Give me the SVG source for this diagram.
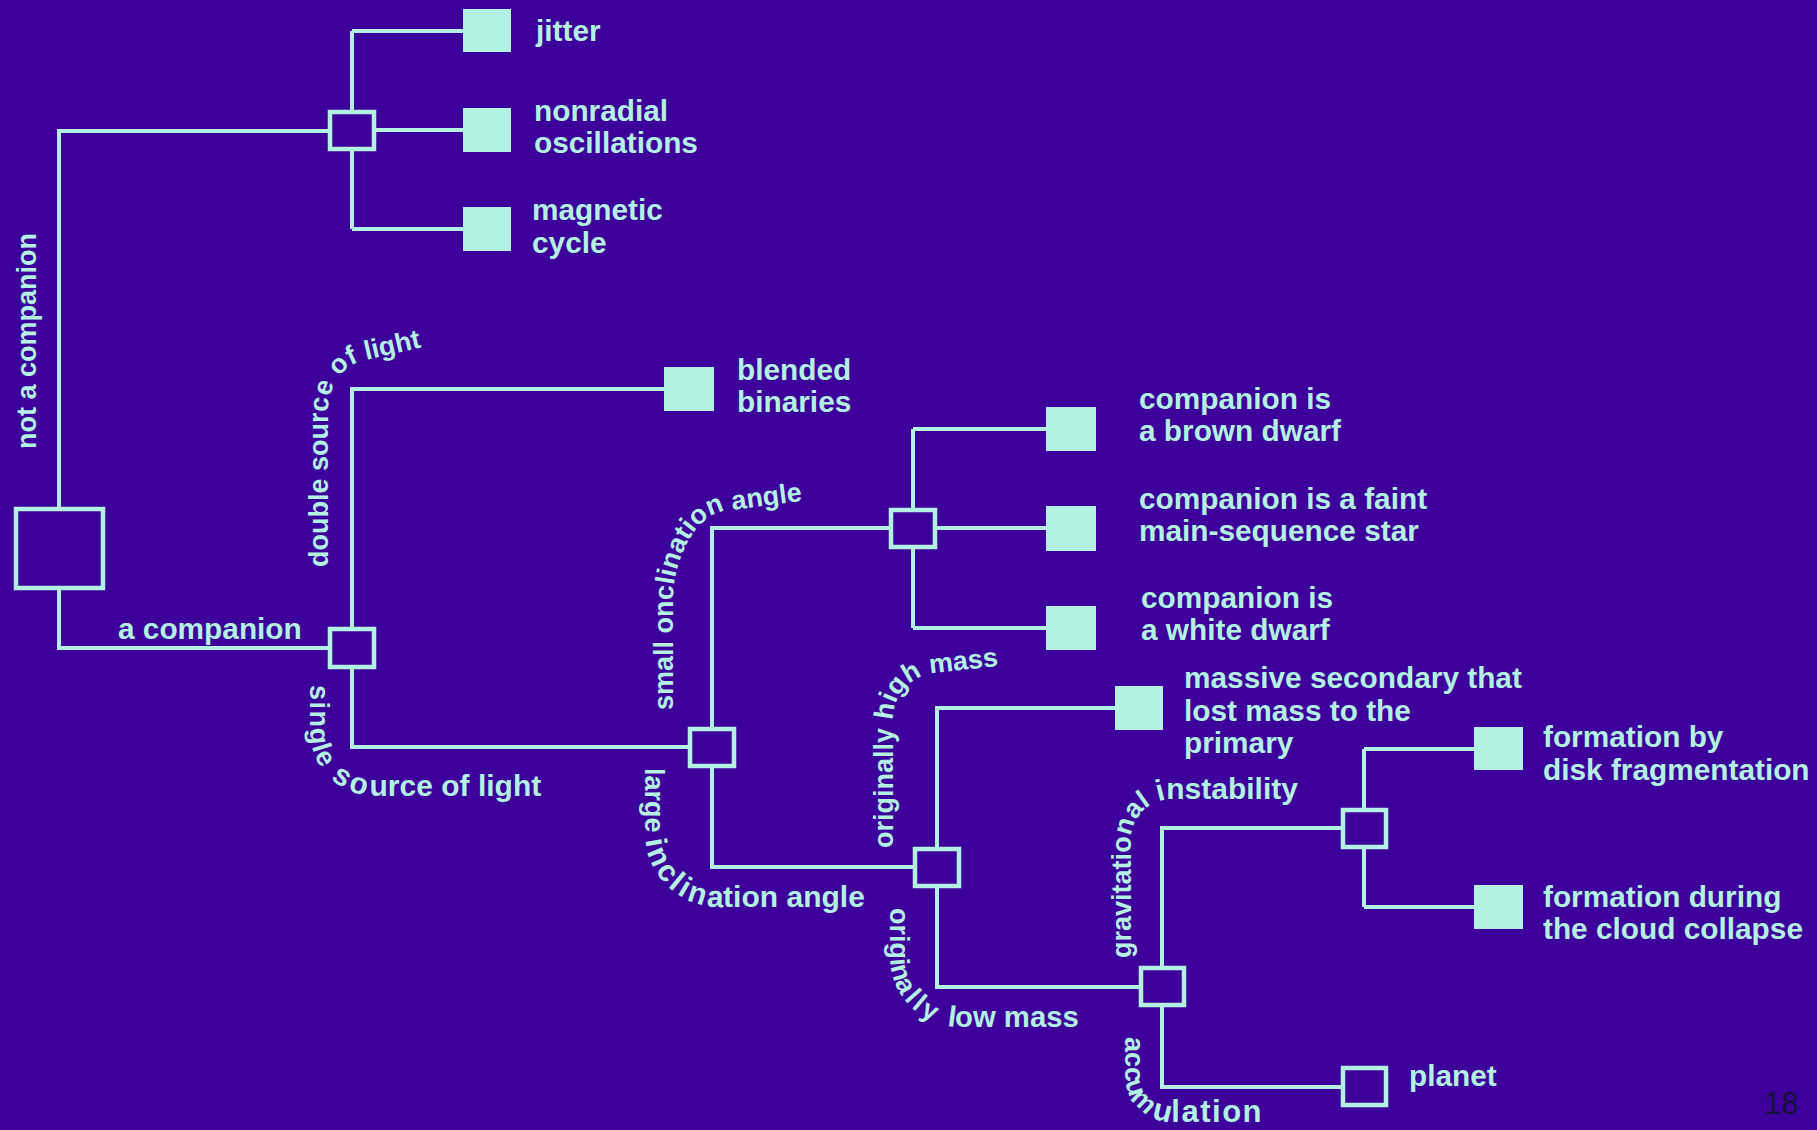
<svg xmlns="http://www.w3.org/2000/svg" width="1817" height="1130" viewBox="0 0 1817 1130">
<style>
.bg{fill:#3E009A}
.ln{fill:none;stroke:#B3F1E2;stroke-width:4}
.hb{fill:#3E009A;stroke:#B3F1E2;stroke-width:4.5}
.leaf{fill:#B3F1E2}
.t{font-family:"Liberation Sans",Arial,sans-serif;font-weight:bold;font-size:29.8px;fill:#B3F1E2}
.lb{font-family:"Liberation Sans",Arial,sans-serif;font-weight:bold;font-size:27px;fill:#B3F1E2}
.pg{font-family:"Liberation Sans",Arial,sans-serif;font-size:31px;fill:#15123a}
</style>
<defs>
<path id="pDS" d="M328,567 L328,410 C328,390 340.6,366 362,361 L460,338.5"/>
<path id="pSS" d="M310,685 L310,731 A65,65 0 0 0 375,796 L620,796"/>
<path id="pSO" d="M673,710 L673,600 C673,560 695,515 725,511 L840,496"/>
<path id="pLI" d="M645,768 L645,833 A74,74 0 0 0 719,907 L920,907"/>
<path id="pOH" d="M893,848 L893,720 C893,695 910,676 935,673 L1040,661"/>
<path id="pOL" d="M890,908 L890,957 A70,70 0 0 0 960,1027 L1140,1027"/>
<path id="pGI" d="M1131,958 L1131,840 A41,41 0 0 1 1172,799 L1340,799"/>
<path id="pAC" d="M1125,1037 L1125,1075 A47,47 0 0 0 1172,1122 L1320,1122"/>
</defs>
<rect class="bg" x="0" y="0" width="1817" height="1130"/>

<g id="connectors">
<path class="ln" d="M59,509 V131 H330"/>
<path class="ln" d="M352,31 V229 M352,31 H463 M374,130 H463 M352,229 H463"/>
<path class="ln" d="M59,588 V648 H330"/>
<path class="ln" d="M352,629 V389 H664 M352,667 V747 H690"/>
<path class="ln" d="M712,729 V528 H892 M712,766 V867 H915"/>
<path class="ln" d="M913,429 V628 M913,429 H1046 M935,528 H1046 M913,628 H1046"/>
<path class="ln" d="M937,849 V708 H1115 M937,886 V987 H1141"/>
<path class="ln" d="M1162,968 V828 H1343 M1162,1005 V1087 H1343"/>
<path class="ln" d="M1364,749 V907 M1364,749 H1474 M1364,907 H1474"/>
</g>

<g id="labels">
<text class="lb" font-size="26.5" transform="translate(36,449) rotate(-90)">not a companion</text>
<text class="t" x="118" y="639">a companion</text>
<text class="lb"><textPath href="#pDS">double source of light</textPath></text>
<text class="lb"><textPath href="#pSS"><tspan letter-spacing="1.5">single</tspan><tspan font-size="30" letter-spacing="4"> so</tspan><tspan font-size="30">urce of light</tspan></textPath></text>
<text class="lb"><textPath href="#pSO">small onclination angle</textPath></text>
<text class="lb"><textPath href="#pLI">large <tspan font-size="30" letter-spacing="3">inclin</tspan><tspan font-size="30">ation angle</tspan></textPath></text>
<text class="lb" font-size="26.5"><textPath href="#pOH">originally high mass</textPath></text>
<text class="lb" font-size="27.5"><textPath href="#pOL">origin<tspan letter-spacing="3.6">ally </tspan><tspan font-size="29.3">low mass</tspan></textPath></text>
<text class="lb"><textPath href="#pGI">gravitational <tspan font-size="30">instability</tspan></textPath></text>
<text class="lb"><textPath href="#pAC">accu<tspan letter-spacing="5">m</tspan><tspan font-size="31" letter-spacing="1.5">ulation</tspan></textPath></text>
</g>

<g id="root"><rect class="hb" x="16" y="509" width="87" height="79"/></g>
<g id="n1"><rect class="hb" x="330" y="112" width="44" height="37"/></g>
<g id="n2"><rect class="hb" x="330" y="629" width="44" height="38"/></g>
<g id="n3"><rect class="hb" x="690" y="729" width="44" height="37"/></g>
<g id="n4"><rect class="hb" x="891" y="510" width="44" height="37"/></g>
<g id="n5"><rect class="hb" x="915" y="849" width="44" height="37"/></g>
<g id="n6"><rect class="hb" x="1141" y="968" width="43" height="37"/></g>
<g id="n7"><rect class="hb" x="1343" y="810" width="43" height="37"/></g>

<g id="jitter"><rect class="leaf" x="463" y="9" width="48" height="43"/><text class="t" x="536" y="40.5">jitter</text></g>
<g id="nonradial"><rect class="leaf" x="463" y="108" width="48" height="44"/><text class="t" x="534" y="120.5">nonradial</text><text class="t" x="534" y="153">oscillations</text></g>
<g id="magnetic"><rect class="leaf" x="463" y="207" width="48" height="44"/><text class="t" x="532" y="220">magnetic</text><text class="t" x="532" y="253">cycle</text></g>
<g id="blended"><rect class="leaf" x="664" y="367" width="50" height="44"/><text class="t" x="737" y="380">blended</text><text class="t" x="737" y="412">binaries</text></g>
<g id="brown"><rect class="leaf" x="1046" y="407" width="50" height="44"/><text class="t" x="1139" y="409">companion is</text><text class="t" x="1139" y="441">a brown dwarf</text></g>
<g id="faint"><rect class="leaf" x="1046" y="506" width="50" height="45"/><text class="t" x="1139" y="509">companion is a faint</text><text class="t" x="1139" y="541">main-sequence star</text></g>
<g id="white"><rect class="leaf" x="1046" y="606" width="50" height="44"/><text class="t" x="1141" y="608">companion is</text><text class="t" x="1141" y="640">a white dwarf</text></g>
<g id="massive"><rect class="leaf" x="1115" y="686" width="48" height="44"/><text class="t" x="1184" y="688">massive secondary that</text><text class="t" x="1184" y="721">lost mass to the</text><text class="t" x="1184" y="753">primary</text></g>
<g id="fragm"><rect class="leaf" x="1474" y="727" width="49" height="43"/><text class="t" x="1543" y="747">formation by</text><text class="t" x="1543" y="780">disk fragmentation</text></g>
<g id="collapse"><rect class="leaf" x="1474" y="885" width="49" height="44"/><text class="t" x="1543" y="907">formation during</text><text class="t" x="1543" y="939">the cloud collapse</text></g>
<g id="planet"><rect class="hb" x="1343" y="1068" width="43" height="37"/><text class="t" x="1409" y="1086">planet</text></g>

<text class="pg" x="1764" y="1114">18</text>
</svg>
